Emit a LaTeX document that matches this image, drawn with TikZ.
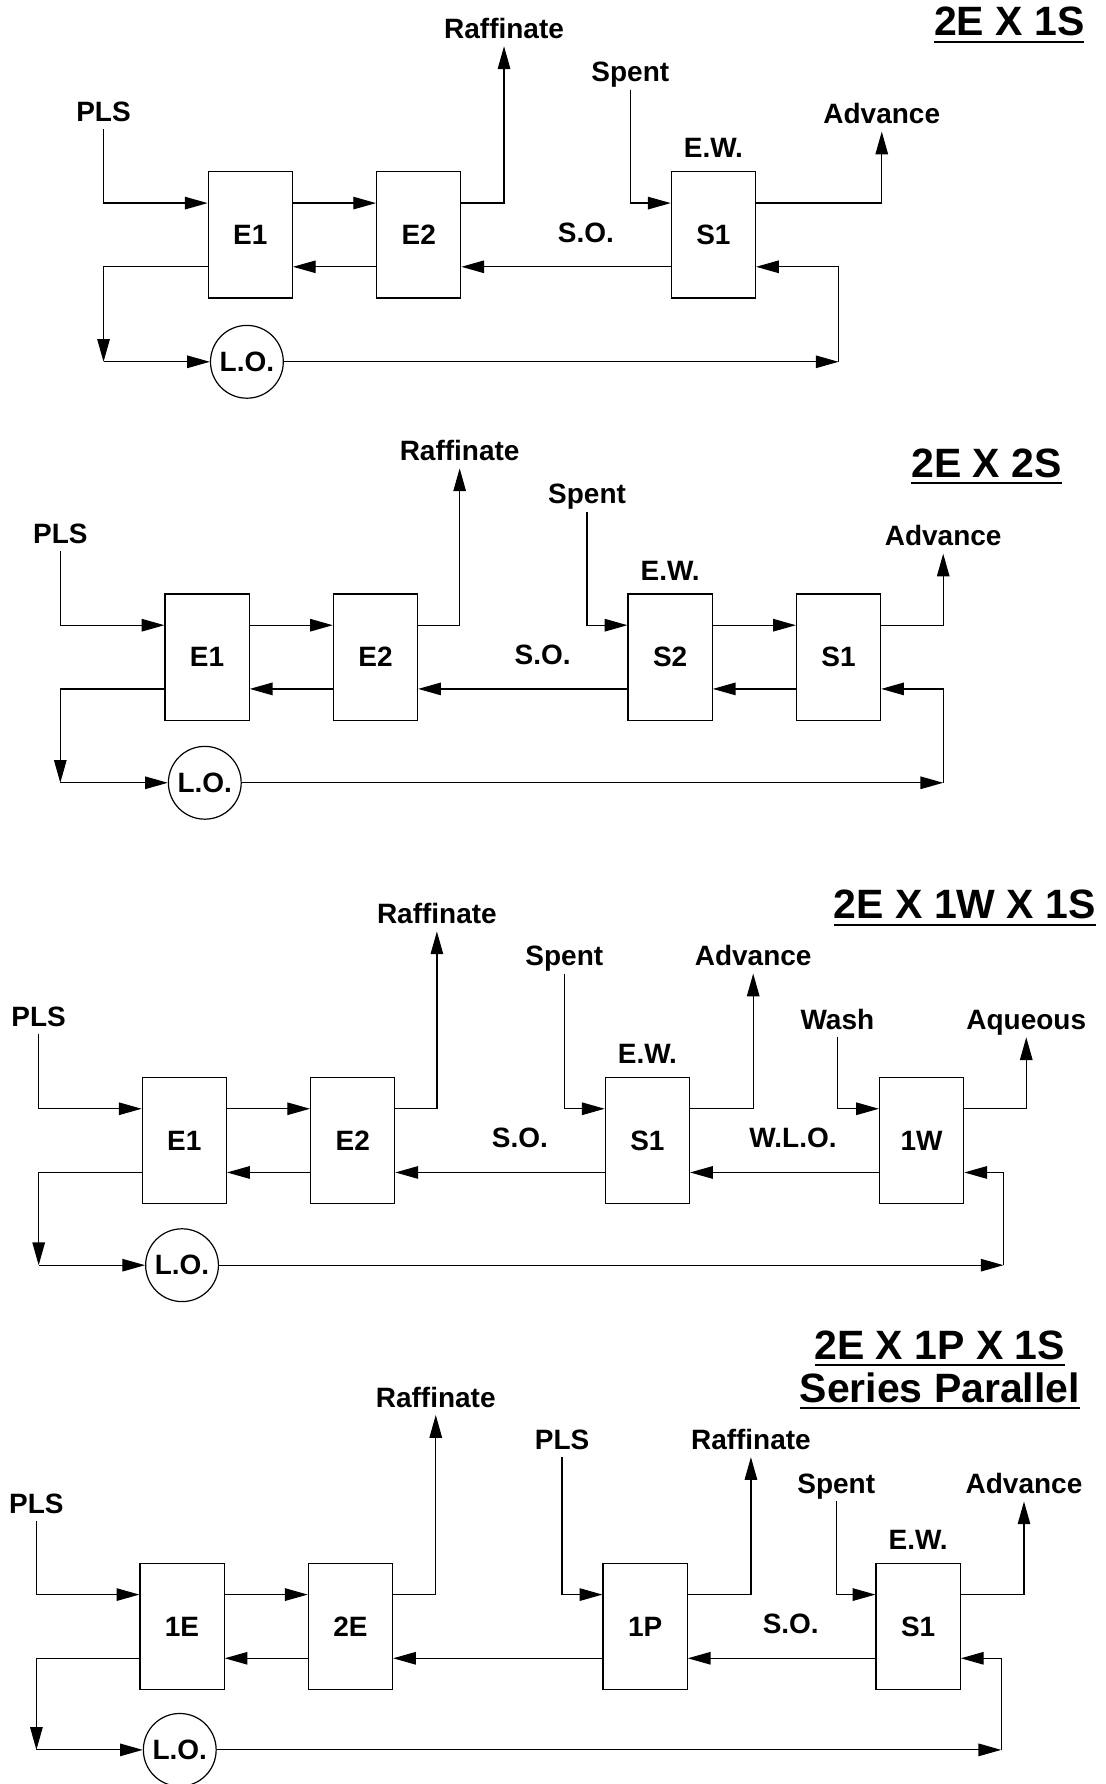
\documentclass[tikz,border=0pt]{standalone}
\usepackage{fontspec}
\setmainfont{Liberation Sans}
\usetikzlibrary{arrows.meta, calc}

\newcommand{\lblfont}{\fontsize{14}{16}\selectfont\bfseries}
\newcommand{\ttlfont}{\fontsize{20.5}{21.5}\selectfont\bfseries}
\newcommand{\thickul}[1]{\leavevmode\vtop{\hbox{#1}\kern2.2pt\hrule height 1.1pt}}

\tikzset{
  stage/.style={draw, line width=0.6pt, minimum width=1.48cm, minimum height=2.22cm, inner sep=0pt, font=\lblfont},
  tank/.style={draw, circle, line width=0.6pt, minimum size=1.28cm, inner sep=0pt, font=\lblfont},
  lbl/.style={font=\lblfont, inner sep=1.5pt, text height=0.94em, text depth=0.22em, yshift=-0.05cm},
  heading/.style={font=\ttlfont, align=center, inner sep=0pt},
  pipe/.style={line width=0.6pt},
  flow/.style={line width=0.6pt, -{Triangle[length=0.4cm,width=0.22cm]}},
}

\begin{document}
\begin{tikzpicture}[x=0.02cm, y=-0.02cm]
\useasboundingbox (0,0) rectangle (972,1568);

% 2E X 1S
\node[heading] (ttla) at (887,22) {\thickul{2E X 1S}};
\node[stage] (E1a) at (220,206.5) {E1};
\node[stage] (E2a) at (368,206.5) {E2};
\node[stage] (S1a) at (627,206.5) {S1};
\node[tank] (LOa) at (217,318) {L.O.};
\node[lbl] (PLSa) at (91,98) {PLS};
\node[lbl] (Raffa) at (443,25) {Raffinate};
\node[lbl] (Spenta) at (554,63) {Spent};
\node[lbl] (Adva) at (775,100) {Advance};
\node[lbl] (EWa) at (627,130) {E.W.};
\node[lbl] (SOa) at (515,204) {S.O.};
\coordinate (cla) at (91,318);
\coordinate (cra) at (737,318);
\draw[flow] (PLSa.south) |- ([yshift=.56cm]E1a.west);
\draw[flow] ([yshift=.56cm]E1a.east) -- ([yshift=.56cm]E2a.west);
\draw[flow] ([yshift=.56cm]E2a.east) -| (Raffa.south);
\draw[flow] (Spenta.south) |- ([yshift=.56cm]S1a.west);
\draw[flow] ([yshift=.56cm]S1a.east) -| (Adva.south);
\draw[flow] ([yshift=-.56cm]S1a.west) -- ([yshift=-.56cm]E2a.east);
\draw[flow] ([yshift=-.56cm]E2a.west) -- ([yshift=-.56cm]E1a.east);
\draw[flow] ([yshift=-.56cm]E1a.west) -| (cla);
\draw[flow] (cla) -- (LOa);
\draw[flow] (LOa) -- (cra);
\draw[flow] (cra) |- ([yshift=-.56cm]S1a.east);

% 2E X 2S
\node[heading] (ttlb) at (867,410) {\thickul{2E X 2S}};
\node[stage] (E1b) at (182,577.5) {E1};
\node[stage] (E2b) at (330,577.5) {E2};
\node[stage] (S2b) at (589,577.5) {S2};
\node[stage] (S1b) at (737,577.5) {S1};
\node[tank] (LOb) at (180,688) {L.O.};
\node[lbl] (PLSb) at (53,469) {PLS};
\node[lbl] (Raffb) at (404,396) {Raffinate};
\node[lbl] (Spentb) at (516,434) {Spent};
\node[lbl] (Advb) at (829,471) {Advance};
\node[lbl] (EWb) at (589,501) {E.W.};
\node[lbl] (SOb) at (477,575) {S.O.};
\coordinate (clb) at (53,688);
\coordinate (crb) at (829,688);
\draw[flow] (PLSb.south) |- ([yshift=.56cm]E1b.west);
\draw[flow] ([yshift=.56cm]E1b.east) -- ([yshift=.56cm]E2b.west);
\draw[flow] ([yshift=.56cm]E2b.east) -| (Raffb.south);
\draw[flow] (Spentb.south) |- ([yshift=.56cm]S2b.west);
\draw[flow] ([yshift=.56cm]S2b.east) -- ([yshift=.56cm]S1b.west);
\draw[flow] ([yshift=.56cm]S1b.east) -| (Advb.south);
\draw[flow] ([yshift=-.56cm]S1b.west) -- ([yshift=-.56cm]S2b.east);
\draw[flow] ([yshift=-.56cm]S2b.west) -- ([yshift=-.56cm]E2b.east);
\draw[flow] ([yshift=-.56cm]E2b.west) -- ([yshift=-.56cm]E1b.east);
\draw[flow] ([yshift=-.56cm]E1b.west) -| (clb);
\draw[flow] (clb) -- (LOb);
\draw[flow] (LOb) -- (crb);
\draw[flow] (crb) |- ([yshift=-.56cm]S1b.east);

% 2E X 1W X 1S
\node[heading] (ttlc) at (848,798) {\thickul{2E X 1W X 1S}};
\node[stage] (E1c) at (162,1002.5) {E1};
\node[stage] (E2c) at (310,1002.5) {E2};
\node[stage] (S1c) at (569,1002.5) {S1};
\node[stage] (W1c) at (810,1002.5) {1W};
\node[tank] (LOc) at (160,1112) {L.O.};
\node[lbl] (PLSc) at (34,893) {PLS};
\node[lbl] (Raffc) at (384,803) {Raffinate};
\node[lbl] (Spentc) at (496,840) {Spent};
\node[lbl] (Advc) at (662,840) {Advance};
\node[lbl] (Washc) at (736,896) {Wash};
\node[lbl] (Aqc) at (902,896) {Aqueous};
\node[lbl] (EWc) at (569,926) {E.W.};
\node[lbl] (SOc) at (457,1000) {S.O.};
\node[lbl] (WLOc) at (697,1000) {W.L.O.};
\coordinate (clc) at (34,1112);
\coordinate (crc) at (882,1112);
\draw[flow] (PLSc.south) |- ([yshift=.56cm]E1c.west);
\draw[flow] ([yshift=.56cm]E1c.east) -- ([yshift=.56cm]E2c.west);
\draw[flow] ([yshift=.56cm]E2c.east) -| (Raffc.south);
\draw[flow] (Spentc.south) |- ([yshift=.56cm]S1c.west);
\draw[flow] ([yshift=.56cm]S1c.east) -| (Advc.south);
\draw[flow] (Washc.south) |- ([yshift=.56cm]W1c.west);
\draw[flow] ([yshift=.56cm]W1c.east) -| (Aqc.south);
\draw[flow] ([yshift=-.56cm]W1c.west) -- ([yshift=-.56cm]S1c.east);
\draw[flow] ([yshift=-.56cm]S1c.west) -- ([yshift=-.56cm]E2c.east);
\draw[flow] ([yshift=-.56cm]E2c.west) -- ([yshift=-.56cm]E1c.east);
\draw[flow] ([yshift=-.56cm]E1c.west) -| (clc);
\draw[flow] (clc) -- (LOc);
\draw[flow] (LOc) -- (crc);
\draw[flow] (crc) |- ([yshift=-.56cm]W1c.east);

% 2E X 1P X 1S series parallel
\node[heading] (ttld) at (826,1204) {\thickul{2E X 1P X 1S}\\\thickul{Series Parallel}};
\node[stage] (E1d) at (160,1429.5) {1E};
\node[stage] (E2d) at (308,1429.5) {2E};
\node[stage] (P1d) at (567,1429.5) {1P};
\node[stage] (S1d) at (807,1429.5) {S1};
\node[tank] (LOd) at (158,1538) {L.O.};
\node[lbl] (PLSd) at (32,1321) {PLS};
\node[lbl] (Raffd) at (383,1228) {Raffinate};
\node[lbl] (PLSpd) at (494,1265) {PLS};
\node[lbl] (Raffpd) at (660,1265) {Raffinate};
\node[lbl] (Spentd) at (735,1304) {Spent};
\node[lbl] (Advd) at (900,1304) {Advance};
\node[lbl] (EWd) at (807,1353) {E.W.};
\node[lbl] (SOd) at (695,1427) {S.O.};
\coordinate (cld) at (32,1538);
\coordinate (crd) at (880,1538);
\draw[flow] (PLSd.south) |- ([yshift=.56cm]E1d.west);
\draw[flow] ([yshift=.56cm]E1d.east) -- ([yshift=.56cm]E2d.west);
\draw[flow] ([yshift=.56cm]E2d.east) -| (Raffd.south);
\draw[flow] (PLSpd.south) |- ([yshift=.56cm]P1d.west);
\draw[flow] ([yshift=.56cm]P1d.east) -| (Raffpd.south);
\draw[flow] (Spentd.south) |- ([yshift=.56cm]S1d.west);
\draw[flow] ([yshift=.56cm]S1d.east) -| (Advd.south);
\draw[flow] ([yshift=-.56cm]S1d.west) -- ([yshift=-.56cm]P1d.east);
\draw[flow] ([yshift=-.56cm]P1d.west) -- ([yshift=-.56cm]E2d.east);
\draw[flow] ([yshift=-.56cm]E2d.west) -- ([yshift=-.56cm]E1d.east);
\draw[flow] ([yshift=-.56cm]E1d.west) -| (cld);
\draw[flow] (cld) -- (LOd);
\draw[flow] (LOd) -- (crd);
\draw[flow] (crd) |- ([yshift=-.56cm]S1d.east);
\end{tikzpicture}
\end{document}
